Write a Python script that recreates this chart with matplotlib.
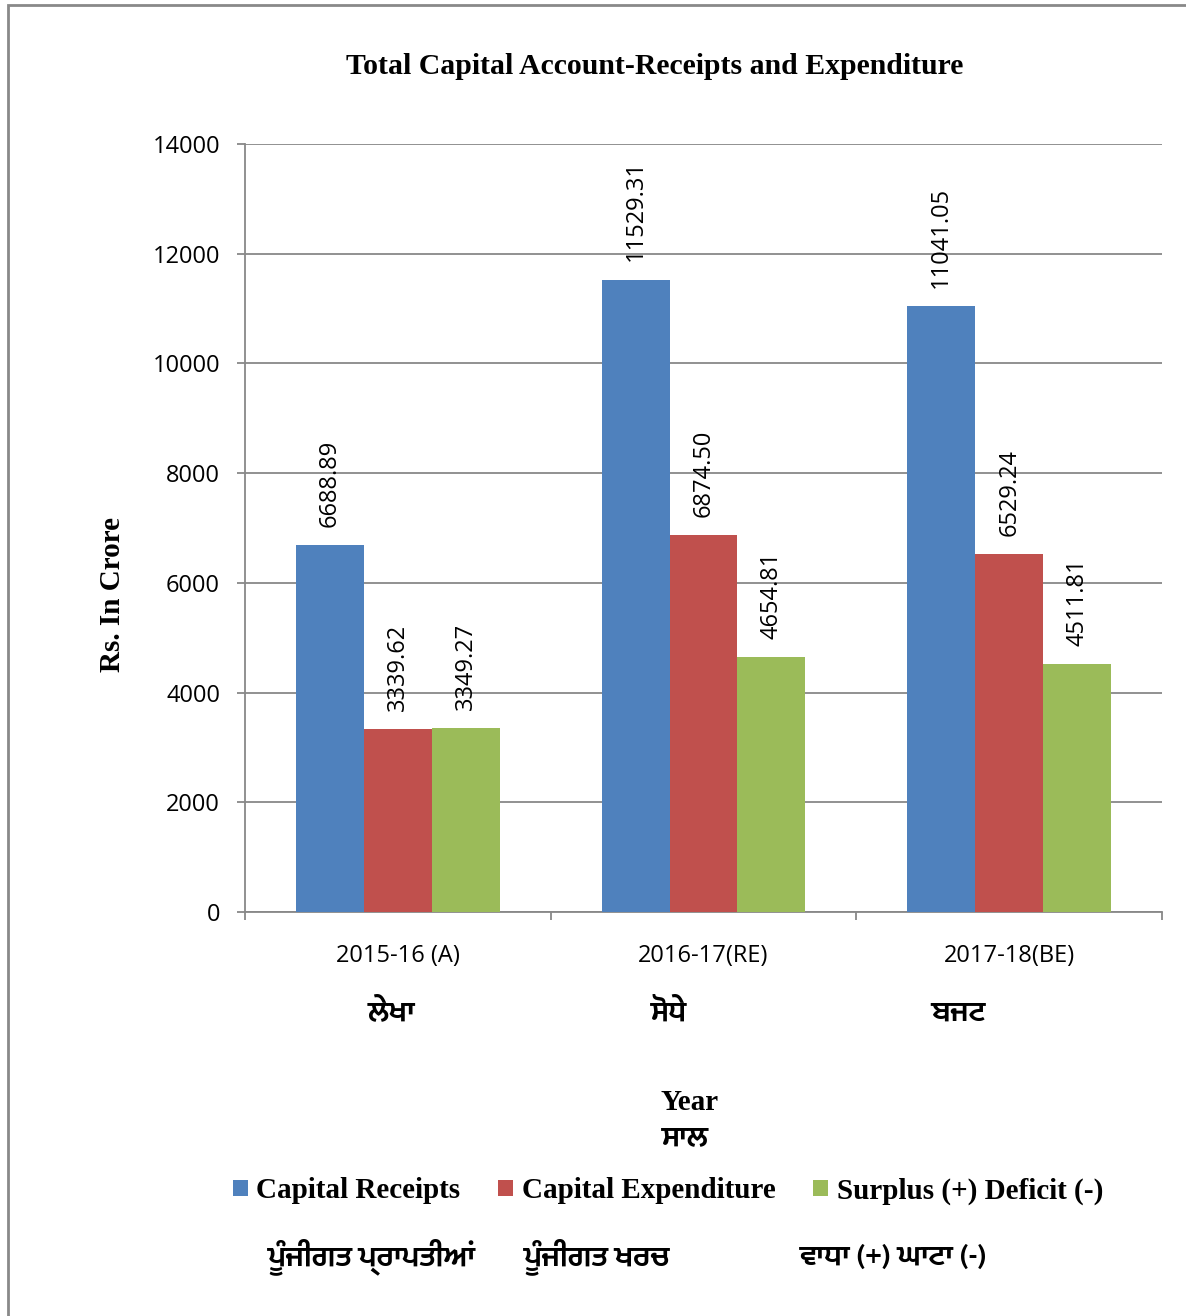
import matplotlib
matplotlib.use("Agg")
import matplotlib.pyplot as plt
import numpy as np
from matplotlib.patches import Rectangle, Patch

# ---- data ----
categories = ["2015-16 (A)", "2016-17(RE)", "2017-18(BE)"]
categories_pa = ["ਲੇਖਾ", "ਸੋਧੇ", "ਬਜਟ"]
series_names = ["Capital Receipts", "Capital Expenditure", "Surplus (+) Deficit (-)"]
series_names_pa = ["ਪੂੰਜੀਗਤ ਪ੍ਰਾਪਤੀਆਂ", "ਪੂੰਜੀਗਤ ਖਰਚ", "ਵਾਧਾ (+) ਘਾਟਾ (-)"]
capital_receipts = [6688.89, 11529.31, 11041.05]
capital_expenditure = [3339.62, 6874.50, 6529.24]
surplus_deficit = [3349.27, 4654.81, 4511.81]
y_ticks = [0, 2000, 4000, 6000, 8000, 10000, 12000, 14000]

colors = ["#4F81BD", "#C0504D", "#9BBB59"]
W, H = 1186, 1316
fig = plt.figure(figsize=(W / 100, H / 100), dpi=100)

def fx(px):
    return px / W

def fy(py):
    return 1 - py / H

# outer border
fig.patches.append(Rectangle((fx(8), fy(1400)), fx(1300), fy(5) - fy(1400),
                             transform=fig.transFigure, fill=False,
                             edgecolor="#898989", linewidth=2))

ax = fig.add_axes([fx(245), fy(912), fx(1162) - fx(245), fy(144) - fy(912)])

serif = "Liberation Serif"
sans = "Open Sans"
gur = ["Mukta Mahee", "Noto Sans Gurmukhi", "DejaVu Sans"]

x = np.arange(len(categories))
bw = 0.222
all_series = [capital_receipts, capital_expenditure, surplus_deficit]
for i, vals in enumerate(all_series):
    xs = x + (i - 1) * bw
    ax.bar(xs, vals, width=bw, color=colors[i], zorder=3, label=series_names[i])
    for xi, v in zip(xs, vals):
        ax.annotate(f"{v:.2f}", (xi, v), xytext=(0, 13),
                    textcoords="offset points", rotation=90,
                    ha="center", va="bottom", fontsize=17,
                    family=sans, color="black", zorder=4)

ax.set_xlim(-0.5, 2.5)
ax.set_ylim(0, 14000)
ax.set_yticks(y_ticks)
ax.set_yticklabels([str(t) for t in y_ticks], family=sans, fontsize=17)
ax.yaxis.grid(True, color="#888888", linewidth=1.3, zorder=0)
ax.set_axisbelow(True)

ax.set_xticks(x)
ax.set_xticklabels(categories, family=sans, fontsize=17)
ax.set_xticks([-0.5, 0.5, 1.5, 2.5], minor=True)
ax.tick_params(axis="x", which="major", length=0, pad=23)
ax.tick_params(axis="x", which="minor", length=6, width=1.3, color="#888888")
ax.tick_params(axis="y", length=6, width=1.3, color="#888888", pad=12)

for s in ["top", "right"]:
    ax.spines[s].set_visible(False)
for s in ["left", "bottom"]:
    ax.spines[s].set_color("#888888")
    ax.spines[s].set_linewidth(1.3)

# title and axis labels
fig.text(fx(655), fy(66), "Total Capital Account-Receipts and Expenditure",
         ha="center", va="center", family=serif, weight="bold", fontsize=21.4)
fig.text(fx(113), fy(595), "Rs. In Crore", rotation=90, ha="center",
         va="center", family=serif, weight="bold", fontsize=21)
fig.text(fx(690), fy(1102), "Year", ha="center", va="center",
         family=serif, weight="bold", fontsize=21)
fig.text(fx(685), fy(1138), "ਸਾਲ", ha="center", va="center",
         family=gur, weight="bold", fontsize=22)

for cx, lab in zip([391, 669, 958], categories_pa):
    fig.text(fx(cx), fy(1013), lab, ha="center", va="center",
             family=gur, weight="bold", fontsize=22)

# legend
handles = [Patch(facecolor=c) for c in colors]
fig.legend(handles, series_names, loc="center",
           bbox_to_anchor=(fx(668), fy(1191)), ncol=3, frameon=False,
           prop={"family": serif, "weight": "bold", "size": 21},
           handlelength=0.5, handleheight=0.5, handletextpad=0.3,
           columnspacing=1.3, borderpad=0)

for cx, lab in zip([372, 597, 894], series_names_pa):
    fig.text(fx(cx), fy(1257), lab, ha="center", va="center",
             family=gur, weight="bold", fontsize=22)

fig.savefig("out.png", dpi=100)
